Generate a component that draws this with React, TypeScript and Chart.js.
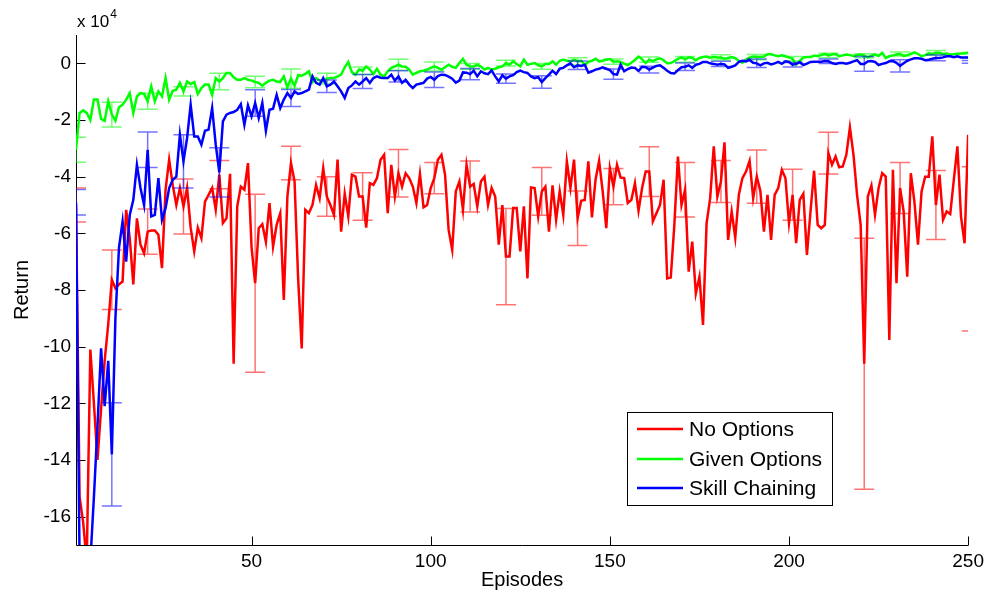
import React, { useEffect, useRef } from "react";
import { Chart, registerables } from "chart.js";

Chart.register(...registerables);

// ---------- DATA (values in units of 10^4) ----------
const seriesNames = ["No Options", "Given Options", "Skill Chaining"];
const seriesColors = ["#ff0000", "#00ff00", "#0000ff"];
const errColors = ["rgba(255,0,0,0.55)", "rgba(0,255,0,0.55)", "rgba(0,0,255,0.55)"];

const noOptions = [
  -5.0, -15.3, -16.2, -17.6, -10.1, -12.0, -14.0, -12.2, -10.5, -9.2,
  -7.64, -7.94, -7.8, -7.7, -5.17, -6.17, -7.8, -5.47, -6.4, -6.7,
  -5.94, -5.9, -5.9, -6.05, -7.23, -4.46, -3.4, -4.3, -5.0, -4.4,
  -5.05, -4.4, -5.8, -6.64, -5.8, -6.17, -4.88, -4.64, -4.4, -5.17,
  -3.93, -5.64, -5.47, -3.9,
  -10.6, -5.05, -4.35, -4.46, -3.52, -6.5, -7.76, -5.82, -5.68, -6.3,
  -4.93, -6.47, -5.7, -5.29, -8.35, -4.7, -3.52, -4.17, -7.6, -10.06,
  -5.17, -5.29, -5.0, -4.29, -4.76, -3.7, -4.7, -5.0, -5.35, -3.4,
  -5.94, -4.6, -5.4, -3.93, -4.0, -4.7, -4.7, -5.8, -4.23, -4.29,
  -4.05,
  -3.4, -3.23, -5.29, -3.58, -4.7, -3.88, -4.35, -3.88, -4.05, -4.35,
  -4.93, -3.9, -5.08, -5.0, -4.4, -4.05, -3.4, -3.23, -3.93, -5.88,
  -6.58, -4.52, -4.17, -5.17, -3.58, -4.35, -4.26, -5.05, -4.17, -4.0,
  -5.0, -4.4, -4.7, -6.4, -5.0, -6.82, -6.82, -5.11, -5.11, -6.64,
  -5.05, -7.59,
  -4.38, -4.4, -5.4, -4.52, -4.35, -5.94, -4.31, -5.52, -4.52, -5.35,
  -3.46, -4.4, -3.4, -5.47, -4.85, -4.82, -3.46, -5.44, -4.11, -3.44,
  -4.52, -5.82, -3.7, -4.35, -3.58, -4.03, -4.05, -4.93, -4.82, -4.23,
  -5.2, -4.4, -3.82, -3.82, -5.58, -5.29, -5.0, -4.11, -7.59, -7.56,
  -5.7, -3.29,
  -5.0, -4.46, -7.35, -6.29, -8.12, -7.53, -9.23, -5.64, -4.76, -2.93,
  -4.7, -4.17, -2.79, -6.23, -5.23, -6.15, -4.64, -4.05, -3.82, -3.44,
  -4.76, -4.0, -4.5, -5.94, -4.64, -6.23, -4.64, -4.4, -3.76, -4.05,
  -5.64, -4.64, -6.35, -4.82, -4.6, -6.76, -5.23, -3.79, -5.7, -5.82,
  -5.7, -3.17,
  -3.58, -3.29, -3.67, -3.64, -3.23, -2.26, -3.23, -4.64, -5.7, -10.6,
  -4.7, -4.31, -5.35, -4.4, -3.88, -4.0, -9.76, -3.76, -7.76, -4.4,
  -5.23, -7.53, -3.88, -4.88, -6.4, -4.52, -4.0, -4.0, -2.58, -5.0,
  -3.93, -5.52, -5.23, -5.32, -4.11, -2.93, -5.4, -6.35, -2.52,
];

const givenOptions = [
  -3.05, -1.75, -1.66, -1.75, -2.0, -1.28, -1.28, -1.96, -2.03, -1.34,
  -1.81, -2.03, -1.55, -1.46, -1.28, -1.05, -1.75, -1.17, -1.05, -1.08,
  -1.34, -0.81, -1.34, -0.99, -1.17, -0.52, -1.28, -0.97, -0.93, -0.69,
  -0.99, -0.64, -0.73, -0.66, -1.08, -0.87, -0.75, -0.75, -1.11, -0.52,
  -0.64, -0.52, -0.34, -0.34,
  -0.49, -0.58, -0.58, -0.52, -0.58, -0.61, -0.66, -0.69, -0.79, -0.69,
  -0.61, -0.58, -0.64, -0.66, -0.46, -0.85, -0.54, -0.79, -0.42, -0.44,
  -0.37, -0.28, -0.67, -0.52, -0.61, -0.64, -0.54, -0.52, -0.52, -0.46,
  -0.4, -0.14, 0.05, -0.31, -0.4, -0.22, -0.26, -0.11, -0.22, -0.38,
  -0.19, -0.4, -0.46, -0.28, -0.16, -0.11, -0.05, -0.11, -0.12, -0.22,
  -0.4, -0.34, -0.28, -0.26, -0.22, -0.16, -0.11, -0.16, -0.22, -0.14,
  -0.05, -0.12, -0.16, 0.01, 0.16, -0.05, -0.11, -0.11, -0.05, -0.11,
  -0.22, -0.16, -0.22, -0.19, -0.14, -0.11, 0.01, -0.05, 0.07, -0.02,
  -0.11, 0.13, -0.05, -0.02, 0.01, -0.07, -0.11, -0.02, -0.02, 0.07,
  -0.05, 0.09, 0.13, 0.09, 0.07, 0.13, 0.07, 0.09, -0.05, 0.05,
  0.09, 0.16, 0.07,
  0.09, 0.13, 0.15, 0.06, 0.07, 0.05, -0.01, -0.06, 0.02, 0.12,
  0.24, 0.14, 0.01, 0.13, 0.08, 0.14, 0.18, 0.11, 0.0, 0.01,
  0.08, 0.16, 0.21, 0.14, 0.21, 0.19, 0.11, 0.19, 0.22, 0.24,
  0.2, 0.22, 0.21, 0.21, 0.16, 0.19, 0.22, 0.18, 0.09, 0.02,
  0.13, 0.2, 0.24, 0.22, 0.22, 0.24, 0.32, 0.32, 0.28, 0.25,
  0.28, 0.25, 0.21, 0.16, -0.05, 0.09, 0.21, 0.22, 0.22, 0.27,
  0.26, 0.29, 0.33, 0.28, 0.31, 0.33, 0.25, 0.28, 0.31, 0.29,
  0.26, 0.29, 0.31, 0.27, 0.21, 0.27, 0.32, 0.26, 0.37, 0.19,
  0.25, 0.28, 0.31, 0.33, 0.26, 0.29, 0.33, 0.39, 0.33, 0.25,
  0.29, 0.35, 0.33, 0.37, 0.37, 0.33, 0.35, 0.31, 0.32, 0.34,
  0.35, 0.35, 0.37,
];

const skillChaining = [
  -4.9, -17.6, -17.6, -17.6, -17.6, -15.3, -12.8, -10.06, -12.1, -10.5,
  -13.8, -9.0, -6.5, -5.58, -7.0, -5.35, -4.82, -3.58, -4.4, -5.0,
  -3.05, -5.4, -5.35, -4.05, -5.52, -5.11, -4.4, -4.11, -4.0, -2.52,
  -3.46, -2.64, -1.46, -2.58, -2.58, -2.87, -2.38, -2.34, -1.58, -2.87,
  -3.85, -2.05, -1.81, -1.75,
  -1.72, -1.64, -1.44, -2.17, -1.48, -1.87, -1.4, -1.93, -1.4, -2.38,
  -1.64, -1.6, -1.11, -1.58, -1.28, -1.05, -1.22, -0.99, -1.08, -1.05,
  -0.99, -0.93, -0.46, -0.69, -0.75, -0.52, -0.81, -0.75, -0.64, -0.81,
  -0.99, -1.22, -0.87, -0.78, -0.64, -0.75, -0.64, -0.52, -0.69, -0.52,
  -0.46,
  -0.51, -0.52, -0.52, -0.4, -0.61, -0.46, -0.69, -0.58, -0.75, -0.87,
  -0.75, -0.72, -0.69, -0.54, -0.48, -0.58, -0.45, -0.4, -0.41, -0.47,
  -0.54, -0.68, -0.61, -0.32, -0.33, -0.38, -0.26, -0.46, -0.28, -0.35,
  -0.38, -0.25, -0.46, -0.64, -0.42, -0.54, -0.46, -0.42, -0.31, -0.26,
  -0.31, -0.34, -0.46, -0.52, -0.49, -0.66, -0.52, -0.4, -0.26, -0.38,
  -0.19, -0.16, -0.07, 0.0, -0.14, -0.07, -0.09, -0.05, -0.33, -0.28,
  -0.22, -0.19,
  -0.14, -0.19, -0.24, -0.38, -0.4, -0.05, -0.28, -0.2, -0.15, -0.16,
  -0.27, -0.12, -0.14, -0.22, -0.15, -0.09, -0.07, -0.16, -0.26, -0.34,
  -0.36, -0.24, -0.14, -0.12, -0.07, -0.16, -0.05, -0.02, 0.05, 0.05,
  0.0, -0.02, -0.05, -0.02, -0.04, -0.16, -0.12, -0.07, 0.05, 0.09,
  0.07, 0.12, 0.02, 0.0, -0.07, 0.0, 0.02, -0.04, 0.0, 0.05,
  -0.02, 0.07, 0.05, -0.05, -0.02, 0.04, -0.06, -0.01, 0.05, 0.06,
  0.06, 0.06, 0.08, 0.07, 0.01, -0.02, 0.01, 0.01, -0.01, 0.02,
  0.07, 0.11, -0.02, -0.02, 0.07, 0.08, 0.05, -0.06, -0.02, 0.01,
  0.07, 0.08, 0.02, -0.09, 0.0, 0.09, 0.14, 0.18, 0.18, 0.16,
  0.11, 0.13, 0.16, 0.19, 0.19, 0.21, 0.25, 0.25, 0.22, 0.25,
  0.21, 0.21, 0.21,
];

// error bars every 10 episodes (half-widths, same units)
const errEpisodes = [1, 11, 21, 31, 41, 51, 61, 71, 81, 91, 101, 111, 121, 131, 141, 151, 161, 171, 181, 191, 201, 211, 221, 231, 241, 251];
const noOptionsErr = [0.6, 1.05, 0.8, 0.97, 0.5, 3.14, 0.59, 0.7, 0.84, 0.84, 0.55, 0.9, 1.7, 0.84, 0.96, 0.64, 0.88, 0.96, 0.74, 0.94, 0.9, 0.74, 4.43, 0.9, 1.22, 2.9];
const givenOptionsErr = [0.44, 0.44, 0.28, 0.16, 0.29, 0.2, 0.34, 0.19, 0.13, 0.19, 0.16, 0.1, 0.1, 0.1, 0.13, 0.09, 0.09, 0.1, 0.09, 0.09, 0.08, 0.08, 0.07, 0.07, 0.08, 0.08];
const skillChainingErr = [0.45, 1.82, 0.63, 0.94, 0.87, 0.47, 0.3, 0.22, 0.25, 0.2, 0.27, 0.2, 0.16, 0.22, 0.15, 0.18, 0.12, 0.13, 0.09, 0.15, 0.08, 0.08, 0.26, 0.22, 0.1, 0.05];
// mean of the final error bar (episode 251, just past the axis end)
const tailMeans = [-6.55, 0.3, 0.05];

const xTicks = [50, 100, 150, 200, 250];
const yTicks = [-16, -14, -12, -10, -8, -6, -4, -2, 0];
const xRange = [1, 250];
const yRange = [-17, 1];

const FONT = "'Liberation Sans', Arial, Helvetica, sans-serif";

const allSeries = [noOptions, givenOptions, skillChaining];
const allErr = [noOptionsErr, givenOptionsErr, skillChainingErr];

const errorBarPlugin = {
  id: "errorBars",
  afterDatasetDraw(chart: any, args: any) {
    const ds = chart.data.datasets[args.index];
    const si = ds.seriesIndex;
    if (si === undefined) return;
    const { ctx, chartArea } = chart;
    const xs = chart.scales.x;
    const ys = chart.scales.y;
    const vals = allSeries[si];
    const errs = allErr[si];
    ctx.save();
    ctx.beginPath();
    ctx.rect(chartArea.left, chartArea.top, chartArea.right - chartArea.left, chartArea.bottom - chartArea.top);
    ctx.clip();
    ctx.strokeStyle = errColors[si];
    ctx.lineWidth = 1.5;
    errEpisodes.forEach((ep, i) => {
      const mean = ep <= vals.length ? vals[ep - 1] : tailMeans[si];
      const e = errs[i];
      const px = xs.getPixelForValue(ep);
      const y1 = ys.getPixelForValue(mean + e);
      const y2 = ys.getPixelForValue(mean - e);
      ctx.beginPath();
      ctx.moveTo(px, y1);
      ctx.lineTo(px, y2);
      ctx.moveTo(px - 10, y1);
      ctx.lineTo(px + 10, y1);
      ctx.moveTo(px - 10, y2);
      ctx.lineTo(px + 10, y2);
      ctx.stroke();
    });
    ctx.restore();
  },
};

const axesPlugin = {
  id: "matlabAxes",
  beforeDatasetsDraw(chart: any) {
    const { ctx, chartArea } = chart;
    const xs = chart.scales.x;
    const ys = chart.scales.y;
    const L = Math.round(chartArea.left) + 0.5;
    const B = Math.round(chartArea.bottom) + 0.5;
    ctx.save();
    ctx.strokeStyle = "#000";
    ctx.lineWidth = 1;
    ctx.beginPath();
    ctx.moveTo(L, chartArea.top);
    ctx.lineTo(L, B);
    ctx.lineTo(chartArea.right, B);
    yTicks.forEach((v) => {
      const py = Math.round(ys.getPixelForValue(v)) + 0.5;
      ctx.moveTo(L, py);
      ctx.lineTo(L + 9, py);
    });
    xTicks.forEach((v) => {
      const px = Math.round(xs.getPixelForValue(v)) + 0.5;
      ctx.moveTo(px, B);
      ctx.lineTo(px, B - 9);
    });
    ctx.stroke();
    ctx.restore();
  },
  afterDraw(chart: any) {
    const { ctx, chartArea } = chart;
    ctx.save();
    ctx.fillStyle = "#000";
    // exponent label
    ctx.font = `17px ${FONT}`;
    ctx.textAlign = "left";
    ctx.textBaseline = "alphabetic";
    ctx.fillText("x 10", chartArea.left + 1, chartArea.top - 8);
    const w = ctx.measureText("x 10").width;
    ctx.font = `12px ${FONT}`;
    ctx.fillText("4", chartArea.left + 2 + w, chartArea.top - 17);
    // axis titles
    ctx.font = `20px ${FONT}`;
    ctx.textAlign = "center";
    ctx.textBaseline = "middle";
    ctx.fillText("Episodes", (chartArea.left + chartArea.right) / 2, 580);
    ctx.save();
    ctx.translate(22, (chartArea.top + chartArea.bottom) / 2);
    ctx.rotate(-Math.PI / 2);
    ctx.fillText("Return", 0, 0);
    ctx.restore();
    // legend
    const bx = 627.5, by = 412.5, bw = 205, bh = 93;
    ctx.fillStyle = "#fff";
    ctx.fillRect(bx, by, bw, bh);
    ctx.strokeStyle = "#000";
    ctx.lineWidth = 1;
    ctx.strokeRect(bx, by, bw, bh);
    const rowsY = [429, 459, 488];
    ctx.font = `21px ${FONT}`;
    ctx.textAlign = "left";
    ctx.textBaseline = "middle";
    seriesNames.forEach((name, i) => {
      ctx.strokeStyle = seriesColors[i];
      ctx.lineWidth = 2.5;
      ctx.beginPath();
      ctx.moveTo(637, rowsY[i]);
      ctx.lineTo(683, rowsY[i]);
      ctx.stroke();
      ctx.fillStyle = "#000";
      ctx.fillText(name, 689, rowsY[i] + 1);
    });
    ctx.restore();
  },
};

export default function App() {
  const canvasRef = useRef<HTMLCanvasElement | null>(null);

  useEffect(() => {
    document.body.style.margin = "0";
    const canvas = canvasRef.current;
    if (!canvas) return;
    const toPoints = (vals: number[]) => vals.map((v, i) => ({ x: i + 1, y: v }));
    // drawing order: index 0 is drawn last (on top) -> blue on top, red at bottom
    const order = [2, 1, 0];
    const datasets = order.map((si) => ({
      label: seriesNames[si],
      seriesIndex: si,
      data: toPoints(allSeries[si]),
      borderColor: seriesColors[si],
      backgroundColor: seriesColors[si],
      borderWidth: 2.5,
      pointRadius: 0,
      tension: 0,
      fill: false,
      clip: 0,
    }));
    const tickFont = { family: FONT, size: 19 };
    const chart = new Chart(canvas, {
      type: "line",
      data: { datasets: datasets as any },
      options: {
        animation: false,
        responsive: false,
        maintainAspectRatio: false,
        layout: { padding: { left: 0, right: 19, top: 35, bottom: 0 } },
        plugins: { legend: { display: false }, tooltip: { enabled: false } },
        scales: {
          x: {
            type: "linear",
            min: xRange[0],
            max: xRange[1],
            afterBuildTicks: (s: any) => {
              s.ticks = xTicks.map((v) => ({ value: v }));
            },
            afterFit: (s: any) => {
              s.height = 52;
            },
            grid: { display: false, drawTicks: false },
            border: { display: false },
            ticks: { color: "#000", font: tickFont, padding: 5, maxRotation: 0, autoSkip: false },
          },
          y: {
            type: "linear",
            min: yRange[0],
            max: yRange[1],
            afterBuildTicks: (s: any) => {
              s.ticks = yTicks.map((v) => ({ value: v }));
            },
            afterFit: (s: any) => {
              s.width = 76;
            },
            grid: { display: false, drawTicks: false },
            border: { display: false },
            ticks: { color: "#000", font: tickFont, padding: 5, autoSkip: false },
          },
        },
      } as any,
      plugins: [axesPlugin, errorBarPlugin],
    });
    return () => chart.destroy();
  }, []);

  return (
    <div style={{ width: 989, height: 597 }}>
      <canvas ref={canvasRef} width={989} height={597} style={{ display: "block" }} />
    </div>
  );
}
